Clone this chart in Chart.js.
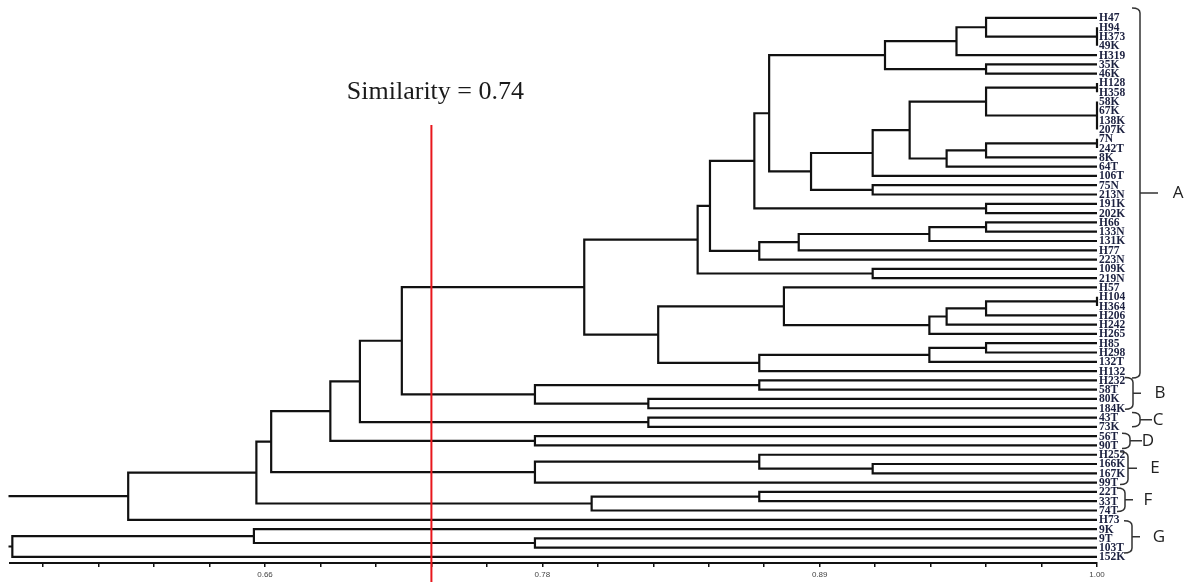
<!DOCTYPE html>
<html>
<head>
<meta charset="utf-8">
<script src="https://cdn.jsdelivr.net/npm/chart.js@4/dist/chart.umd.min.js"></script>
<style>
  html, body { margin: 0; padding: 0; background: #fff; }
  #wrap { width: 1185px; height: 582px; position: relative; }
</style>
</head>
<body>
<div id="wrap"><canvas id="dendro"></canvas></div>
<script>
// leaves, top to bottom
const leaves = ['H47', 'H94', 'H373', '49K', 'H319', '35K', '46K', 'H128', 'H358', '58K',
  '67K', '138K', '207K', '7N', '242T', '8K', '64T', '106T', '75N', '213N',
  '191K', '202K', 'H66', '133N', '131K', 'H77', '223N', '109K', '219N', 'H57',
  'H104', 'H364', 'H206', 'H242', 'H265', 'H85', 'H298', '132T', 'H132', 'H232',
  '58T', '80K', '184K', '43T', '73K', '56T', '90T', 'H252', '166K', '167K',
  '99T', '22T', '33T', '74T', 'H73', '9K', '9T', '103T', '152K'];

// merges: [node, similarity, ...children]
const merges = [
  ['a1', 1.00, 'H94', 'H373', '49K'],
  ['a2', 0.955, 'H47', 'a1'],
  ['a3', 0.943, 'a2', 'H319'],
  ['a4', 0.955, '35K', '46K'],
  ['a5', 0.914, 'a3', 'a4'],
  ['a6', 1.00, 'H128', 'H358'],
  ['a7', 1.00, '58K', '67K', '138K', '207K'],
  ['a8', 0.955, 'a6', 'a7'],
  ['a9', 1.00, '7N', '242T'],
  ['a10', 0.955, 'a9', '8K'],
  ['a11', 0.939, 'a10', '64T'],
  ['a12', 0.924, 'a8', 'a11'],
  ['a13', 0.909, 'a12', '106T'],
  ['a14', 0.909, '75N', '213N'],
  ['a15', 0.884, 'a13', 'a14'],
  ['a16', 0.867, 'a5', 'a15'],
  ['a17', 0.955, '191K', '202K'],
  ['a18', 0.861, 'a16', 'a17'],
  ['a19', 0.955, 'H66', '133N'],
  ['a20', 0.932, 'a19', '131K'],
  ['a21', 0.879, 'a20', 'H77'],
  ['a22', 0.863, 'a21', '223N'],
  ['a23', 0.843, 'a18', 'a22'],
  ['a24', 0.909, '109K', '219N'],
  ['a25', 0.838, 'a23', 'a24'],
  ['a26', 1.00, 'H104', 'H364'],
  ['a27', 0.955, 'a26', 'H206'],
  ['a28', 0.939, 'a27', 'H242'],
  ['a29', 0.932, 'a28', 'H265'],
  ['a30', 0.873, 'H57', 'a29'],
  ['a31', 0.955, 'H85', 'H298'],
  ['a32', 0.932, 'a31', '132T'],
  ['a33', 0.863, 'a32', 'H132'],
  ['a34', 0.822, 'a30', 'a33'],
  ['a35', 0.792, 'a25', 'a34'],
  ['b1', 0.863, 'H232', '58T'],
  ['b2', 0.818, '80K', '184K'],
  ['b3', 0.772, 'b1', 'b2'],
  ['r1', 0.718, 'a35', 'b3'],
  ['c1', 0.818, '43T', '73K'],
  ['r2', 0.701, 'r1', 'c1'],
  ['d1', 0.772, '56T', '90T'],
  ['r3', 0.689, 'r2', 'd1'],
  ['e1', 0.909, '166K', '167K'],
  ['e2', 0.863, 'H252', 'e1'],
  ['e3', 0.772, 'e2', '99T'],
  ['r4', 0.665, 'r3', 'e3'],
  ['f1', 0.863, '22T', '33T'],
  ['f2', 0.795, 'f1', '74T'],
  ['r5', 0.659, 'r4', 'f2'],
  ['r6', 0.607, 'r5', 'H73'],
  ['g1', 0.772, '9T', '103T'],
  ['g2', 0.658, '9K', 'g1'],
  ['g3', 0.560, 'g2', '152K'],
  ['root', 0.55, 'r6', 'g3']
];

// cluster groups: [letter, first leaf, last leaf]
const groups = [
  ['A', 'H47', 'H132'],
  ['B', 'H232', '184K'],
  ['C', '43T', '73K'],
  ['D', '56T', '90T'],
  ['E', 'H252', '99T'],
  ['F', '22T', '74T'],
  ['G', 'H73', '152K']
];

const tickValues = [0.5725, 0.595, 0.6175, 0.64, 0.6625, 0.685, 0.7075, 0.73, 0.7525, 0.775,
  0.7975, 0.82, 0.8425, 0.865, 0.8875, 0.91, 0.9325, 0.955, 0.9775, 1.00];
const tickLabels = ['', '', '', '', '0.66', '', '', '', '', '0.78',
  '', '', '', '', '0.89', '', '', '', '', '1.00'];

const cutValue = 0.73;
const cutLabel = 'Similarity = 0.74';

// build node positions
const pos = {};
leaves.forEach(function(name, i) { pos[name] = { x: 1.00, y: i }; });
const datasets = [];
merges.forEach(function(m) {
  const name = m[0], sim = m[1], kids = m.slice(2).map(function(k) { return pos[k]; });
  const first = kids[0], last = kids[kids.length - 1];
  pos[name] = { x: sim, y: (first.y + last.y) / 2 };
  datasets.push({
    data: [
      { x: first.x, y: first.y }, { x: sim, y: first.y },
      { x: sim, y: last.y }, { x: last.x, y: last.y }
    ],
    showLine: true,
    borderColor: '#111',
    borderWidth: 2.2,
    pointRadius: 0,
    borderJoinStyle: 'miter',
    clip: { left: 1, top: false, right: false, bottom: false }
  });
});

// labels, brackets, cut line
const decorations = {
  id: 'decorations',
  afterDraw: function(chart) {
    const c = chart.ctx;
    const xs = chart.scales.x, ys = chart.scales.y;
    c.save();

    // leaf names
    c.font = 'bold 11.5px "Liberation Serif"';
    c.fillStyle = '#1c2140';
    c.textAlign = 'left';
    c.textBaseline = 'middle';
    leaves.forEach(function(name, i) {
      c.fillText(name, xs.right + 2, ys.getPixelForValue(i) + 0.5);
    });

    // brackets with letters
    const bx = { A: 1140, B: 1133, C: 1140, D: 1130, E: 1128, F: 1125, G: 1132 };
    const tick = { A: 18, B: 8, C: 12, D: 12, E: 9, F: 8, G: 8 };
    const ext = { A: [10, 7], B: [3, 1], C: [5, 0], D: [3, 3], E: [3, 2], F: [4, 1], G: [-1, -4] };
    const lx = { A: 1178, B: 1160, C: 1158, D: 1148, E: 1155, F: 1148, G: 1159 };
    c.strokeStyle = '#333';
    c.lineWidth = 1.5;
    groups.forEach(function(g) {
      const k = g[0];
      const top = ys.getPixelForValue(leaves.indexOf(g[1])) - ext[k][0];
      const bot = ys.getPixelForValue(leaves.indexOf(g[2])) + ext[k][1];
      const mid = (top + bot) / 2;
      const x = bx[k];
      c.beginPath();
      c.moveTo(x - 8, top);
      c.quadraticCurveTo(x, top, x, top + 5);
      c.lineTo(x, bot - 5);
      c.quadraticCurveTo(x, bot, x - 8, bot);
      c.moveTo(x, mid);
      c.lineTo(x + tick[k], mid);
      c.stroke();
      c.font = '17px "Open Sans"';
      c.fillStyle = '#222';
      c.textAlign = 'center';
      c.textBaseline = 'middle';
      c.fillText(k, lx[k], mid);
    });

    // cut line
    const cx = xs.getPixelForValue(cutValue);
    c.strokeStyle = '#e8161c';
    c.lineWidth = 2;
    c.beginPath();
    c.moveTo(cx, 125);
    c.lineTo(cx, chart.height);
    c.stroke();
    c.font = '26px "Liberation Serif"';
    c.fillStyle = '#1a1a1a';
    c.textAlign = 'center';
    c.textBaseline = 'middle';
    c.fillText(cutLabel, cx + 4, 92);
    c.restore();
  }
};

new Chart(document.getElementById('dendro'), {
  type: 'scatter',
  data: { datasets: datasets },
  plugins: [decorations],
  options: {
    responsive: true,
    maintainAspectRatio: false,
    animation: false,
    layout: { padding: { left: 9.5, right: 88, top: 4, bottom: 0 } },
    plugins: { legend: { display: false }, tooltip: { enabled: false } },
    scales: {
      x: {
        type: 'linear',
        min: 0.55885,
        max: 1.00,
        afterBuildTicks: function(scale) {
          scale.ticks = tickValues.map(function(v) { return { value: v }; });
        },
        afterFit: function(scale) { scale.height = 19; },
        ticks: {
          autoSkip: false,
          maxRotation: 0,
          padding: 3,
          color: '#444',
          font: { family: 'Liberation Sans', size: 8 },
          callback: function(value, index) { return tickLabels[index]; }
        },
        grid: { drawOnChartArea: false, drawTicks: true, tickLength: 4, color: '#111', lineWidth: 1.5 },
        border: { display: true, color: '#111', width: 2 }
      },
      y: {
        type: 'linear',
        reverse: true,
        min: -1.5,
        max: 58.65,
        display: false
      }
    }
  }
});
</script>
</body>
</html>
